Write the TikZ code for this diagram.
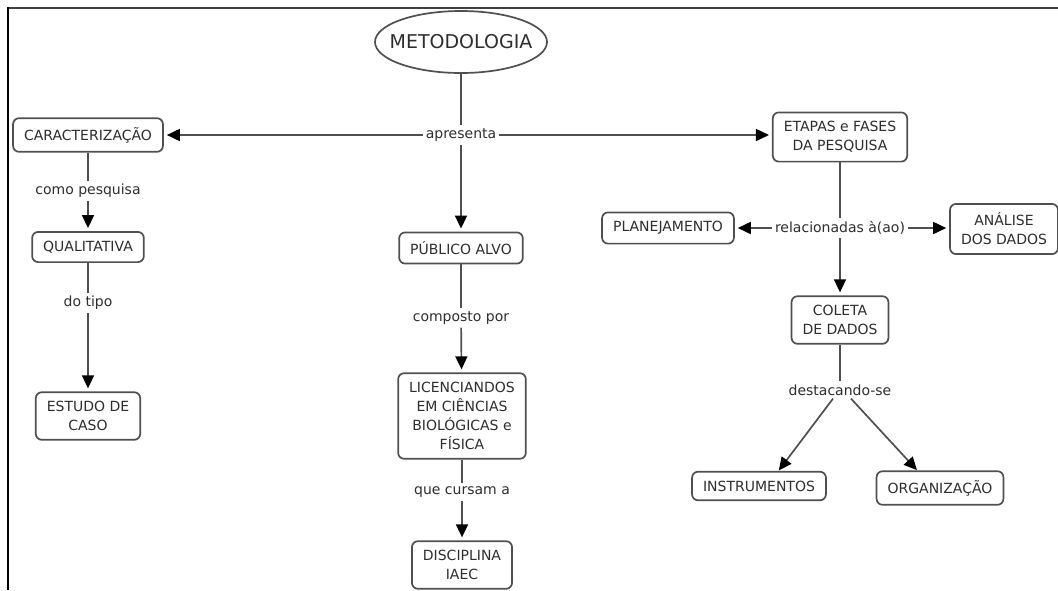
\documentclass[tikz,border=0pt]{standalone}
\usepackage{fontspec}
\setmainfont{DejaVu Sans}
\usetikzlibrary{shapes.geometric,arrows.meta}
\definecolor{ink}{HTML}{2E2E2E}
\definecolor{edge}{HTML}{505050}
\definecolor{rule}{HTML}{404040}
\tikzset{
  concept/.style={draw=edge, line width=1.7pt, rounded corners=6pt, fill=white,
    text=ink, align=center, inner xsep=11pt, inner ysep=9pt,
    font=\fontsize{14}{19}\selectfont},
  linkword/.style={fill=white, text=ink, inner sep=3pt,
    font=\fontsize{14}{19}\selectfont},
  conn/.style={draw=edge, line width=1.7pt},
  arr/.style={conn, -{Triangle[length=13pt,width=12pt,color=black]}, shorten >=3pt},
}
\begin{document}
\begin{tikzpicture}[x=1pt,y=-1pt]
\useasboundingbox (0,0) rectangle (1058,590);
% frame edges
\draw[line width=2pt, rule] (7,8) -- (1058,8);
\draw[line width=2.5pt, black] (8,7) -- (8,590);

% central concept
\node[ellipse, draw=edge, line width=1.7pt, minimum width=172pt, minimum height=62pt,
      inner xsep=-11pt, inner ysep=0pt, text=ink, font=\fontsize{19}{22}\selectfont]
      (met) at (461,42) {METODOLOGIA};
\node[linkword] (apres) at (461,135) {apresenta};

% left branch
\node[concept] (caract) at (88,135) {CARACTERIZAÇÃO};
\node[linkword] (como) at (88,191) {como pesquisa};
\node[concept] (qualit) at (88,247) {QUALITATIVA};
\node[linkword] (tipo) at (88,303) {do tipo};
\node[concept] (estudo) at (88,416) {ESTUDO DE\\CASO};

% middle branch
\node[concept] (publico) at (461,248) {PÚBLICO ALVO};
\node[linkword] (compo) at (461,318) {composto por};
\node[concept] (licenc) at (462,416) {LICENCIANDOS\\EM CIÊNCIAS\\BIOLÓGICAS e\\FÍSICA};
\node[linkword] (cursam) at (462,492) {que cursam a};
\node[concept] (disc) at (462,565) {DISCIPLINA\\IAEC};

% right branch
\node[concept] (etapas) at (840,137) {ETAPAS e FASES\\DA PESQUISA};
\node[linkword] (relac) at (840,228) {relacionadas à(ao)};
\node[concept] (planej) at (668,228) {PLANEJAMENTO};
\node[concept] (analise) at (1004,229) {ANÁLISE\\DOS DADOS};
\node[concept] (coleta) at (840,320) {COLETA\\DE DADOS};
\node[linkword] (destac) at (840,390) {destacando-se};
\node[concept] (instr) at (759,486) {INSTRUMENTOS};
\node[concept] (organ) at (940,488) {ORGANIZAÇÃO};

% connectors
\draw[conn] (met) -- (apres);
\draw[arr] (apres.west) -- (apres.west -| caract.east);
\draw[arr] (apres.east) -- (apres.east -| etapas.west);
\draw[arr] (apres) -- (publico);

\draw[conn] (caract) -- (como);
\draw[arr] (como) -- (qualit);
\draw[conn] (qualit) -- (tipo);
\draw[arr] (tipo) -- (estudo);

\draw[conn] (publico) -- (compo);
\draw[arr] (compo) -- (licenc);
\draw[conn] (licenc) -- (cursam);
\draw[arr] (cursam) -- (disc);

\draw[conn] (etapas) -- (relac);
\draw[arr] (relac.west) -- (relac.west -| planej.east);
\draw[arr] (relac.east) -- (relac.east -| analise.west);
\draw[arr] (relac) -- (coleta);

\draw[conn] (coleta) -- (destac);
\draw[arr] ([xshift=-7pt]destac.south) -- ([xshift=18pt,yshift=-2pt]instr.north);
\draw[arr] ([xshift=11pt]destac.south) -- ([xshift=-21pt,yshift=-2pt]organ.north);
\end{tikzpicture}
\end{document}
